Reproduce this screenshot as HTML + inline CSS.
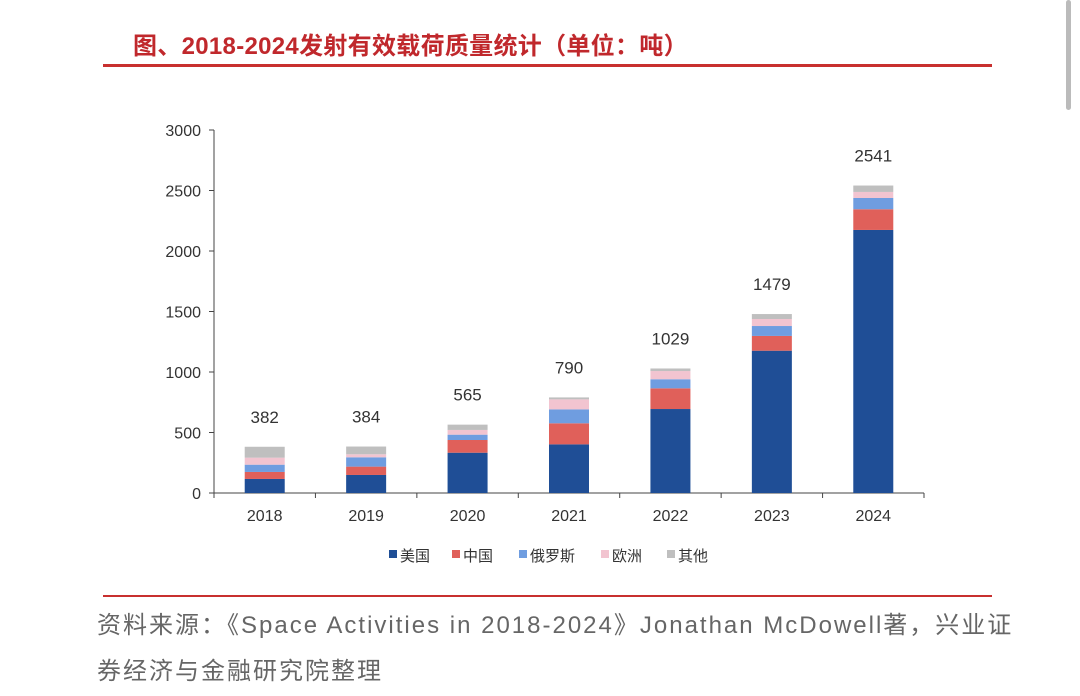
<!DOCTYPE html>
<html><head><meta charset="utf-8"><style>
body{margin:0;width:1080px;height:696px;background:#fff;overflow:hidden;position:relative;font-family:"Liberation Sans","Noto Sans CJK SC",sans-serif}
.t{position:absolute;white-space:nowrap}
</style></head><body>
<div class="t" style="left:133px;top:26px;font-size:24px;font-weight:bold;color:#c0282c;letter-spacing:0.3px">图、2018-2024发射有效载荷质量统计（单位：吨）</div>
<div style="position:absolute;left:103px;top:64px;width:889px;height:3px;background:#c8302f"></div>
<svg id="chart" width="1080" height="696" style="position:absolute;left:0;top:0" font-family="Liberation Sans, Noto Sans CJK SC, sans-serif"></svg>
<div style="position:absolute;left:103px;top:595px;width:889px;height:2px;background:#c8302f"></div>
<div class="t" style="left:97px;top:603px;font-size:24px;color:#666;line-height:46px;letter-spacing:2px">资料来源：《Space Activities in 2018-2024》Jonathan McDowell著，兴业证<br>券经济与金融研究院整理</div>
<div style="position:absolute;left:1066px;top:0;width:5px;height:110px;background:#bbb;border-radius:3px"></div>
<script>
const categories=['2018','2019','2020','2021','2022','2023','2024'];
const totals=[382,384,565,790,1029,1479,2541];
const usa=[116,149,333,402,694,1176,2174];
const china=[58,69,105,174,171,122,171];
const russia=[60,77,44,115,75,82,93];
const europe=[58,25,39,83,68,58,50];
const others=[90,64,44,16,21,41,53];
const yTicks=[0,500,1000,1500,2000,2500,3000];
const seriesNames=['美国','中国','俄罗斯','欧洲','其他'];
const colors=['#1f4e96','#e0605a','#6f9de0','#f2c4d0','#bfbfbf'];
const series=[usa,china,russia,europe,others];
const svg=document.getElementById('chart');
const NS='http://www.w3.org/2000/svg';
const x0=214,x1=924,y0=493,y1=130,yMax=3000;
const cw=(x1-x0)/categories.length,bw=40;
const Y=v=>y0-(v/yMax)*(y0-y1);
const X=i=>x0+cw*(i+0.5);
function mk(tag,a){const e=document.createElementNS(NS,tag);for(const k in a)e.setAttribute(k,a[k]);svg.appendChild(e);return e;}
let ax=mk('line',{x1:x0,y1:y0,x2:x0,y2:y1,stroke:'#444','stroke-width':1});

let bx=mk('line',{x1:x0,y1:y0,x2:x1,y2:y0,stroke:'#444','stroke-width':1});

yTicks.forEach(v=>{
 mk('line',{x1:x0-5,y1:Y(v),x2:x0,y2:Y(v),stroke:'#444'});
 const t=mk('text',{x:x0-13,y:Y(v)+6,'text-anchor':'end','font-size':16,fill:'#333'});t.textContent=v;
 
});
for(let i=0;i<=categories.length;i++)mk('line',{x1:x0+cw*i,y1:y0,x2:x0+cw*i,y2:y0+5,stroke:'#444'});
categories.forEach((c,i)=>{
 let acc=0;
 series.forEach((s,k)=>{
  const r=mk('rect',{x:X(i)-bw/2,y:Y(acc+s[i]),width:bw,height:Y(acc)-Y(acc+s[i]),fill:colors[k]});
  
  acc+=s[i];
 });
 const t=mk('text',{x:X(i),y:Y(totals[i])-24,'text-anchor':'middle','font-size':17,fill:'#333'});t.textContent=totals[i];
 
 const l=mk('text',{x:X(i),y:y0+28,'text-anchor':'middle','font-size':16,fill:'#333'});l.textContent=c;
 
});
const lx=[389,452,519,601,667];
seriesNames.forEach((n,k)=>{
 const r=mk('rect',{x:lx[k],y:550,width:8,height:8,fill:colors[k]});
 
 const t=mk('text',{x:lx[k]+11,y:561,'font-size':15,fill:'#333'});t.textContent=n;
 
});
</script>
</body></html>
